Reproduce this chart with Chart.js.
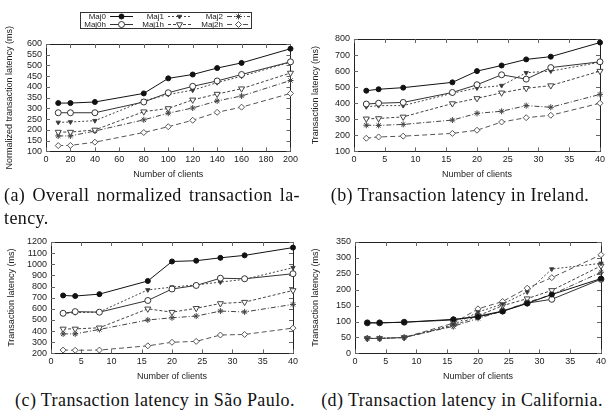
<!DOCTYPE html>
<html>
<head>
<meta charset="utf-8">
<script src="https://cdn.jsdelivr.net/npm/chart.js@4.4.1/dist/chart.umd.min.js"></script>
<style>
  body { margin: 0; width: 614px; height: 420px; background: #fff; position: relative; overflow: hidden; }
  .panel { position: absolute; }
  .cap { position: absolute; font-family: "Liberation Serif", serif; font-size: 18px; letter-spacing: 0.4px; color: #111; white-space: nowrap; }
</style>
</head>
<body>
<div class="panel" style="left:0;top:0;width:301px;height:182px"><canvas id="chartA"></canvas></div>
<div class="panel" style="left:306px;top:0;width:302px;height:182px"><canvas id="chartB"></canvas></div>
<div class="panel" style="left:2px;top:200px;width:299px;height:184px"><canvas id="chartC"></canvas></div>
<div class="panel" style="left:306px;top:200px;width:303px;height:184px"><canvas id="chartD"></canvas></div>

<div class="cap" style="left:4px;top:185px;width:296px;text-align:justify;text-align-last:justify;white-space:normal">(a) Overall normalized transaction la-</div>
<div class="cap" style="left:4px;top:208px">tency.</div>
<div class="cap" style="left:306px;top:185px;width:308px;text-align:center">(b) Transaction latency in Ireland.</div>
<div class="cap" style="left:2px;top:390px;width:306px;text-align:center">(c) Transaction latency in São Paulo.</div>
<div class="cap" style="left:310px;top:390px;width:304px;text-align:center">(d) Transaction latency in California.</div>

<script>
const seriesNames = ["Maj0", "Maj0h", "Maj1", "Maj1h", "Maj2", "Maj2h"];

// (a) overall, normalized
const overallClients = [10, 20, 40, 80, 100, 120, 140, 160, 200];
const overallMaj0  = [325, 325, 330, 370, 440, 458, 488, 512, 578];
const overallMaj0h = [280, 280, 280, 330, 373, 403, 428, 458, 517];
const overallMaj1  = [235, 237, 243, 335, 365, 385, 420, 450, 515];
const overallMaj1h = [190, 190, 200, 285, 300, 340, 367, 392, 465];
const overallMaj2  = [172, 172, 195, 247, 278, 302, 335, 358, 430];
const overallMaj2h = [127, 128, 143, 188, 215, 245, 282, 306, 370];

// (b)(c)(d) per region
const regionClients = [2, 4, 8, 16, 20, 24, 28, 32, 40];

const irelandMaj0  = [478, 487, 497, 530, 600, 635, 673, 690, 778];
const irelandMaj0h = [395, 400, 405, 467, 515, 577, 550, 622, 658];
const irelandMaj1  = [378, 385, 385, 462, 495, 510, 590, 600, 655];
const irelandMaj1h = [303, 305, 315, 398, 430, 465, 493, 510, 600];
const irelandMaj2  = [263, 262, 268, 295, 337, 350, 385, 375, 455];
const irelandMaj2h = [182, 190, 195, 212, 232, 283, 310, 325, 400];

const saoPauloMaj0  = [720, 715, 732, 850, 1025, 1032, 1058, 1080, 1150];
const saoPauloMaj0h = [560, 575, 570, 675, 778, 810, 875, 870, 915];
const saoPauloMaj1  = [560, 565, 572, 770, 795, 815, 840, 865, 970];
const saoPauloMaj1h = [420, 420, 430, 600, 570, 605, 648, 660, 765];
const saoPauloMaj2  = [375, 375, 415, 500, 520, 535, 580, 572, 640];
const saoPauloMaj2h = [230, 228, 230, 268, 300, 308, 365, 370, 427];

const californiaMaj0  = [96, 96, 98, 107, 115, 132, 157, 185, 235];
const californiaMaj0h = [96, 96, 98, 105, 117, 133, 158, 170, 233];
const californiaMaj1  = [47, 47, 50, 90, 130, 155, 193, 265, 283];
const californiaMaj1h = [47, 47, 50, 87, 118, 150, 172, 198, 275];
const californiaMaj2  = [47, 47, 50, 85, 110, 133, 160, 185, 255];
const californiaMaj2h = [48, 47, 50, 95, 140, 163, 205, 238, 310];

const seriesStyle = [
  { color: "#111", dash: [],           pointStyle: "circle",   radius: 2.5, fill: "#111", rot: 0 },
  { color: "#333", dash: [],           pointStyle: "circle",   radius: 3,   fill: "#fff", rot: 0 },
  { color: "#444", dash: [2, 2],       pointStyle: "triangle", radius: 2.5, fill: "#333", rot: 180 },
  { color: "#444", dash: [3, 2],       pointStyle: "triangle", radius: 3.5, fill: "#fff", rot: 180 },
  { color: "#444", dash: [5, 2, 1, 2], pointStyle: "star",     radius: 3,   fill: "#222", rot: 0 },
  { color: "#555", dash: [5, 3],       pointStyle: "rectRot",  radius: 3,   fill: "#fff", rot: 0 },
];

const sansFont = "'Liberation Sans', Arial, sans-serif";
Chart.defaults.font.family = sansFont;
Chart.defaults.font.size = 9;
Chart.defaults.color = "#222";

// gnuplot-like frame with inward ticks on all four sides
const framePlugin = {
  id: "frame",
  beforeDatasetsDraw(chart) {
    const { ctx, chartArea: a, scales } = chart;
    ctx.save();
    ctx.strokeStyle = "#222";
    ctx.lineWidth = 1;
    ctx.strokeRect(Math.round(a.left) + 0.5, Math.round(a.top) + 0.5,
      Math.round(a.right - a.left), Math.round(a.bottom - a.top));
    ctx.strokeStyle = "#666";
    ctx.beginPath();
    scales.x.ticks.forEach(t => {
      const px = Math.round(scales.x.getPixelForValue(t.value)) + 0.5;
      ctx.moveTo(px, a.bottom); ctx.lineTo(px, a.bottom - 4);
      ctx.moveTo(px, a.top); ctx.lineTo(px, a.top + 4);
    });
    scales.y.ticks.forEach(t => {
      const py = Math.round(scales.y.getPixelForValue(t.value)) + 0.5;
      ctx.moveTo(a.left, py); ctx.lineTo(a.left + 4, py);
      ctx.moveTo(a.right, py); ctx.lineTo(a.right - 4, py);
    });
    ctx.stroke();
    ctx.restore();
  }
};

function samplePoint(ctx, st, x, y) {
  ctx.fillStyle = st.fill;
  ctx.strokeStyle = st.color;
  ctx.lineWidth = 1;
  ctx.setLineDash([]);
  Chart.helpers.drawPoint(ctx, { pointStyle: st.pointStyle, radius: st.radius, rotation: st.rot, borderWidth: 1 }, x, y);
}

// boxed legend above chart (a): 3 columns x 2 rows
const boxLegend = {
  id: "boxLegend",
  afterDraw(chart) {
    const ctx = chart.ctx;
    ctx.save();
    ctx.strokeStyle = "#333";
    ctx.lineWidth = 1;
    ctx.strokeRect(80.5, 12.5, 171, 16);
    ctx.font = "8px " + sansFont;
    ctx.textAlign = "right";
    ctx.textBaseline = "middle";
    const textRight = [106, 164, 223];
    const lineStart = [110, 168, 227];
    const rowY = [16.5, 24.5];
    seriesNames.forEach((name, i) => {
      const col = Math.floor(i / 2), row = i % 2;
      const st = seriesStyle[i];
      ctx.fillStyle = "#222";
      ctx.fillText(name, textRight[col], rowY[row]);
      ctx.strokeStyle = st.color;
      ctx.setLineDash(st.dash);
      ctx.beginPath();
      ctx.moveTo(lineStart[col], rowY[row]);
      ctx.lineTo(lineStart[col] + 23, rowY[row]);
      ctx.stroke();
      samplePoint(ctx, st, lineStart[col] + 11.5, rowY[row]);
    });
    ctx.restore();
  }
};

function buildDatasets(xs, rows) {
  return rows.map((ys, i) => {
    const st = seriesStyle[i];
    return {
      label: seriesNames[i],
      data: xs.map((x, k) => ({ x: x, y: ys[k] })),
      borderColor: st.color,
      borderWidth: 1,
      borderDash: st.dash,
      pointStyle: st.pointStyle,
      pointRadius: st.radius,
      pointRotation: st.rot,
      pointBackgroundColor: st.fill,
      pointBorderColor: st.color,
      pointBorderWidth: 1,
      tension: 0,
      clip: false,
    };
  });
}

function makeChart(id, xs, rows, opts) {
  return new Chart(document.getElementById(id), {
    type: "line",
    data: { datasets: buildDatasets(xs, rows) },
    options: {
      responsive: true,
      maintainAspectRatio: false,
      animation: false,
      layout: { padding: { top: opts.padTop, right: 8, left: 0, bottom: 0 } },
      plugins: { legend: { display: false }, tooltip: { enabled: false } },
      scales: {
        x: {
          type: "linear",
          min: 0, max: opts.xMax,
          grid: { display: false, drawTicks: false },
          border: { display: false },
          ticks: { stepSize: opts.xStep, padding: 3, maxRotation: 0, autoSkip: false,
                   callback: v => String(v) },
          title: { display: true, text: "Number of clients", padding: { top: 1, bottom: 2 } },
        },
        y: {
          min: opts.yMin, max: opts.yMax,
          grid: { display: false, drawTicks: false },
          border: { display: false },
          ticks: { stepSize: opts.yStep, padding: 4, autoSkip: false,
                   callback: v => String(v) },
          title: { display: true, text: opts.yTitle, padding: { top: 4, bottom: 2 } },
          afterFit(scale) { scale.width = opts.axisW; },
        },
      },
    },
    plugins: opts.legend ? [framePlugin, boxLegend] : [framePlugin],
  });
}

makeChart("chartA", overallClients,
  [overallMaj0, overallMaj0h, overallMaj1, overallMaj1h, overallMaj2, overallMaj2h],
  { yMin: 100, yMax: 600, yStep: 50, xMax: 200, xStep: 20, axisW: 46, padTop: 44,
    yTitle: "Normalized transaction latency (ms)", legend: true });

makeChart("chartB", regionClients,
  [irelandMaj0, irelandMaj0h, irelandMaj1, irelandMaj1h, irelandMaj2, irelandMaj2h],
  { yMin: 100, yMax: 800, yStep: 100, xMax: 40, xStep: 5, axisW: 48, padTop: 39,
    yTitle: "Transaction latency (ms)" });

makeChart("chartC", regionClients,
  [saoPauloMaj0, saoPauloMaj0h, saoPauloMaj1, saoPauloMaj1h, saoPauloMaj2, saoPauloMaj2h],
  { yMin: 200, yMax: 1200, yStep: 100, xMax: 40, xStep: 5, axisW: 49, padTop: 42,
    yTitle: "Transaction latency (ms)" });

makeChart("chartD", regionClients,
  [californiaMaj0, californiaMaj0h, californiaMaj1, californiaMaj1h, californiaMaj2, californiaMaj2h],
  { yMin: 0, yMax: 350, yStep: 50, xMax: 40, xStep: 5, axisW: 49, padTop: 42,
    yTitle: "Transaction latency (ms)" });
</script>
</body>
</html>
